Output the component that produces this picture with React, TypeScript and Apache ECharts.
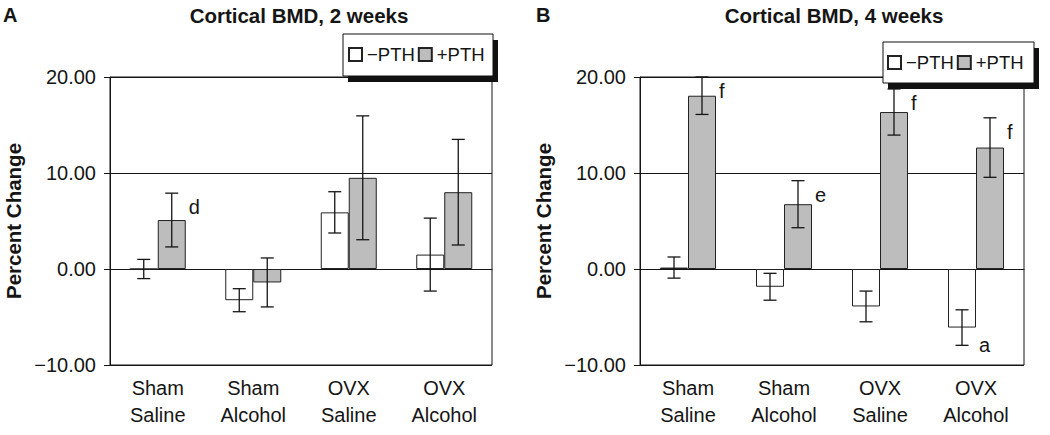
import React, { useEffect, useRef } from 'react';
import * as echarts from 'echarts';

const categories = ['Sham\nSaline', 'Sham\nAlcohol', 'OVX\nSaline', 'OVX\nAlcohol'];
const seriesNames = ['\u2212PTH', '+PTH'];
const panelTitles = ['Cortical BMD, 2 weeks', 'Cortical BMD, 4 weeks'];
const panelLetters = ['A', 'B'];
const yTicks = { min: -10, max: 20, interval: 10 };

const week2MinusMean = [0.0, -3.25, 5.9, 1.5];
const week2MinusErr = [1.0, 1.2, 2.15, 3.8];
const week2PlusMean = [5.1, -1.4, 9.5, 8.0];
const week2PlusErr = [2.8, 2.55, 6.45, 5.5];
const week4MinusMean = [0.15, -1.85, -3.9, -6.1];
const week4MinusErr = [1.1, 1.4, 1.6, 1.85];
const week4PlusMean = [18.05, 6.75, 16.35, 12.65];
const week4PlusErr = [1.95, 2.45, 2.4, 3.1];

const week2MinusLetters = ['', '', '', ''];
const week2PlusLetters = ['d', '', '', ''];
const week4MinusLetters = ['', '', '', 'a'];
const week4PlusLetters = ['f', 'e', 'f', 'f'];

const FONT = '"Liberation Sans", Arial, Helvetica, sans-serif';
const INK = '#151515';
const BAR_W = 28;

function barSeries(idx: number, name: string, means: number[], fill: string) {
  return {
    type: 'bar',
    name,
    xAxisIndex: idx,
    yAxisIndex: idx,
    data: means,
    barWidth: BAR_W,
    barGap: '0%',
    z: 3,
    itemStyle: { color: fill, borderColor: '#222', borderWidth: 1 },
  };
}

function errorSeries(idx: number, name: string, means: number[], errs: number[], letters: string[], side: number) {
  return {
    type: 'custom',
    name,
    xAxisIndex: idx,
    yAxisIndex: idx,
    z: 5,
    silent: true,
    data: means.map((m, i) => [i, m - errs[i], m + errs[i]]),
    renderItem: (params: any, api: any) => {
      const cat = api.value(0);
      const lo = api.coord([cat, api.value(1)]);
      const hi = api.coord([cat, api.value(2)]);
      const x = lo[0] + (side * BAR_W) / 2;
      const cap = 6.5;
      const style = { stroke: INK, lineWidth: 1.3 };
      const children: any[] = [
        { type: 'line', shape: { x1: x, y1: lo[1], x2: x, y2: hi[1] }, style },
        { type: 'line', shape: { x1: x - cap, y1: hi[1], x2: x + cap, y2: hi[1] }, style },
        { type: 'line', shape: { x1: x - cap, y1: lo[1], x2: x + cap, y2: lo[1] }, style },
      ];
      const letter = letters[params.dataIndex];
      if (letter) {
        const above = means[params.dataIndex] >= 0;
        children.push({
          type: 'text',
          x: x + BAR_W / 2 + 3,
          y: above ? hi[1] + 14 : lo[1],
          style: {
            text: letter,
            fill: INK,
            font: `20px ${FONT}`,
            align: 'left',
            verticalAlign: 'middle',
            textAlign: 'left',
            textVerticalAlign: 'middle',
          },
        });
      }
      return { type: 'group', children };
    },
  };
}

const grids = [
  { left: 110, right: 558, top: 77, bottom: 70 },
  { left: 640, right: 26, top: 77, bottom: 70 },
];
const titleCenters = [299, 834];
const letterLefts = [3, 536];
const nameGaps = [86, 86];
const legendPos = [
  { left: 348, top: 45 },
  { left: 887, top: 53 },
];
const legendBoxes = [
  { x: 343, y: 34, w: 150, h: 42 },
  { x: 883, y: 42, w: 151, h: 41 },
];

export default function App() {
  const ref = useRef<HTMLDivElement>(null);
  useEffect(() => {
    if (!ref.current) return;
    const chart = echarts.init(ref.current, null, { renderer: 'svg' });

    const fmt = (v: number) => (v < 0 ? '\u2212' : '') + Math.abs(v).toFixed(2);

    const xAxis = [0, 1].map((i) => ({
      type: 'category',
      gridIndex: i,
      data: categories,
      axisTick: { show: false },
      axisLine: { show: true, lineStyle: { color: INK, width: 1 } },
      axisLabel: { interval: 0, fontSize: 20, lineHeight: 27, color: INK, fontFamily: FONT, margin: 9 },
      splitLine: { show: false },
    }));
    const yAxis = [0, 1].map((i) => ({
      type: 'value',
      gridIndex: i,
      min: yTicks.min,
      max: yTicks.max,
      interval: yTicks.interval,
      name: 'Percent Change',
      nameLocation: 'middle',
      nameGap: nameGaps[i],
      nameTextStyle: { fontSize: 20.5, fontWeight: 'bold', color: INK, fontFamily: FONT },
      axisLine: { show: true, lineStyle: { color: INK, width: 1 } },
      axisTick: { show: true, length: 6, lineStyle: { color: INK, width: 1 } },
      axisLabel: { formatter: fmt, fontSize: 20, color: INK, fontFamily: FONT, margin: 14 },
      splitLine: { show: true, lineStyle: { color: INK, width: 1 } },
    }));

    const title: any[] = [];
    [0, 1].forEach((i) => {
      title.push({
        text: panelLetters[i],
        left: letterLefts[i],
        top: 5,
        padding: 0,
        textStyle: { fontSize: 20, fontWeight: 'bold', color: INK, fontFamily: FONT },
      });
      title.push({
        text: panelTitles[i],
        left: titleCenters[i],
        textAlign: 'center',
        top: 5,
        padding: 0,
        textStyle: { fontSize: 20.5, fontWeight: 'bold', color: INK, fontFamily: FONT },
      });
    });

    const legend = [0, 1].map((i) => ({
      data: seriesNames,
      left: legendPos[i].left,
      top: legendPos[i].top,
      padding: 0,
      itemWidth: 13,
      itemHeight: 13,
      itemGap: 3,
      icon: 'rect',
      selectedMode: false,
      z: 10,
      textStyle: { fontSize: 18.5, color: INK, fontFamily: FONT },
    }));

    const graphicEls: any[] = [];
    legendBoxes.forEach((b) => {
      graphicEls.push({ type: 'rect', z: 6, shape: { x: b.x + 5, y: b.y + 6, width: b.w, height: b.h }, style: { fill: '#111' } });
      graphicEls.push({ type: 'rect', z: 7, shape: { x: b.x, y: b.y, width: b.w, height: b.h }, style: { fill: '#fff', stroke: '#111', lineWidth: 1 } });
    });

    const series = [
      barSeries(0, seriesNames[0], week2MinusMean, '#ffffff'),
      barSeries(0, seriesNames[1], week2PlusMean, '#bdbdbd'),
      errorSeries(0, 'err2m', week2MinusMean, week2MinusErr, week2MinusLetters, -1),
      errorSeries(0, 'err2p', week2PlusMean, week2PlusErr, week2PlusLetters, 1),
      barSeries(1, seriesNames[0], week4MinusMean, '#ffffff'),
      barSeries(1, seriesNames[1], week4PlusMean, '#bdbdbd'),
      errorSeries(1, 'err4m', week4MinusMean, week4MinusErr, week4MinusLetters, -1),
      errorSeries(1, 'err4p', week4PlusMean, week4PlusErr, week4PlusLetters, 1),
    ];

    chart.setOption({
      animation: false,
      backgroundColor: '#ffffff',
      textStyle: { fontFamily: FONT },
      title,
      legend,
      graphic: { elements: graphicEls },
      grid: grids.map((g) => ({ ...g, show: true, borderColor: INK, borderWidth: 1, backgroundColor: 'transparent', containLabel: false })),
      xAxis,
      yAxis,
      series,
    });
    return () => chart.dispose();
  }, []);
  return <div ref={ref} style={{ position: 'absolute', left: 0, top: 0, width: 1050, height: 435, background: '#fff' }} />;
}
